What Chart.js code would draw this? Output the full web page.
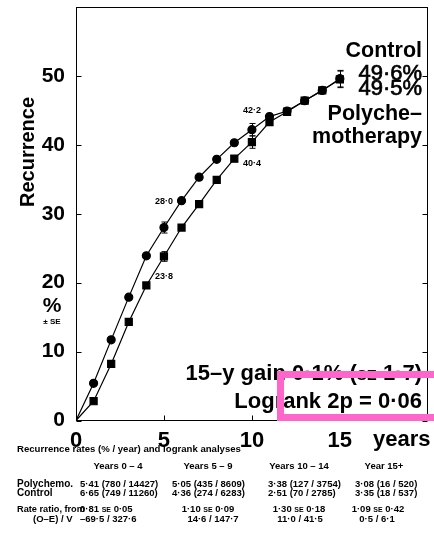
<!DOCTYPE html>
<html>
<head>
<meta charset="utf-8">
<script src="https://cdn.jsdelivr.net/npm/chart.js@4/dist/chart.umd.min.js"></script>
<style>
  body { margin: 0; background: #fff; }
  #wrap { position: relative; width: 434px; height: 535px; overflow: hidden; }
  #chart { position: absolute; left: 0; top: 0; }
  .t { position: absolute; font: bold 9.5px "Liberation Sans", Arial, sans-serif; white-space: nowrap; line-height: 10px; color: #000; }
  .c { transform: translateX(-50%); }
  .sc { font-size: 7px; }
</style>
</head>
<body>
<div id="wrap">
  <canvas id="chart" width="434" height="455"></canvas>
</div>
<script>
// datos
const years = [0, 1, 2, 3, 4, 5, 6, 7, 8, 9, 10, 11, 12, 13, 14, 15];
const control = [0, 5.4, 11.7, 17.9, 23.9, 28.0, 31.9, 35.3, 37.9, 40.3, 42.2, 44.1, 44.9, 46.4, 47.9, 49.6];
const polychemo = [0, 2.8, 8.2, 14.3, 19.6, 23.8, 28.0, 31.4, 34.9, 38.0, 40.4, 43.3, 44.8, 46.4, 47.9, 49.5];

// error estandar en los años 5, 10 y 15
const seYears = [5, 10, 15];
const controlSE = [0.8, 0.9, 1.2];
const polySE = [0.7, 0.9, 1.2];

const xTicks = [0, 5, 10, 15];
const yTicks = [0, 10, 20, 30, 40, 50];

// tabla inferior
const periods = ["Years 0 – 4", "Years 5 – 9", "Years 10 – 14", "Year 15+"];
const polyRates = ["5·41 (780 / 14427)", "5·05 (435 / 8609)", "3·38 (127 / 3754)", "3·08 (16 / 520)"];
const controlRates = ["6·65 (749 / 11260)", "4·36 (274 / 6283)", "2·51 (70 / 2785)", "3·35 (18 / 537)"];
const rateRatio = ["0·81", "1·10", "1·30", "1·09"];
const rateRatioSE = ["0·05", "0·09", "0·18", "0·42"];
const oeV = ["–69·5 / 327·6", "14·6 / 147·7", "11·0 / 41·5", "0·5 / 6·1"];

const FONT = "'Liberation Sans', Arial, Helvetica, sans-serif";
Chart.defaults.font.family = FONT;
Chart.defaults.color = "#000";

// dibuja texto por partes (para las versalitas SE)
function drawRuns(ctx, parts, xRight, yBase, strokeW) {
    let w = 0;
    parts.forEach(p => { ctx.font = p[1]; w += ctx.measureText(p[0]).width; });
    let xx = xRight - w;
    ctx.textAlign = "left";
    ctx.textBaseline = "alphabetic";
    parts.forEach(p => {
        ctx.font = p[1];
        ctx.fillText(p[0], xx, yBase);
        if (strokeW) {
            ctx.lineWidth = strokeW;
            ctx.strokeStyle = "#000";
            ctx.strokeText(p[0], xx, yBase);
        }
        xx += ctx.measureText(p[0]).width;
    });
}

const decor = {
    id: "decor",
    afterDatasetsDraw(chart) {
        const { ctx, scales: { x, y } } = chart;
        ctx.save();
        ctx.strokeStyle = "#000";
        ctx.lineWidth = 1;
        [[control, controlSE], [polychemo, polySE]].forEach(([vals, se]) => {
            seYears.forEach((yr, i) => {
                const px = Math.round(x.getPixelForValue(yr)) + 0.5;
                const top = y.getPixelForValue(vals[yr] + se[i]);
                const bot = y.getPixelForValue(vals[yr] - se[i]);
                ctx.beginPath();
                ctx.moveTo(px, top); ctx.lineTo(px, bot);
                ctx.moveTo(px - 3, top); ctx.lineTo(px + 3, top);
                ctx.moveTo(px - 3, bot); ctx.lineTo(px + 3, bot);
                ctx.stroke();
            });
        });
        ctx.restore();
    },
    afterDraw(chart) {
        const { ctx, chartArea: a, scales: { x, y } } = chart;
        ctx.save();
        ctx.strokeStyle = "#000";
        ctx.lineWidth = 1;
        const L = Math.round(a.left) + 0.5, R = Math.round(a.right) - 0.5;
        const T = Math.round(a.top) + 0.5, B = Math.round(a.bottom) - 0.5;
        ctx.strokeRect(L, T, R - L, B - T);

        // marcas hacia adentro
        ctx.beginPath();
        xTicks.forEach(v => {
            const px = Math.round(x.getPixelForValue(v)) + 0.5;
            ctx.moveTo(px, B); ctx.lineTo(px, B - 5);
        });
        yTicks.forEach(v => {
            const py = Math.round(y.getPixelForValue(v)) + 0.5;
            ctx.moveTo(L, py); ctx.lineTo(L + 5, py);
            ctx.moveTo(R, py); ctx.lineTo(R - 5, py);
        });
        ctx.stroke();

        ctx.fillStyle = "#000";

        // titulo eje y
        ctx.save();
        ctx.translate(28, 152);
        ctx.rotate(-Math.PI / 2);
        ctx.font = "bold 20px " + FONT;
        ctx.textAlign = "center";
        ctx.textBaseline = "middle";
        ctx.fillText("Recurrence", 0, 0);
        ctx.restore();

        ctx.textAlign = "center";
        ctx.textBaseline = "alphabetic";
        ctx.font = "bold 21px " + FONT;
        ctx.fillText("%", 52, 312);
        ctx.font = "bold 8px " + FONT;
        ctx.fillText("± SE", 52, 324);

        // "years"
        ctx.textAlign = "left";
        ctx.font = "bold 22px " + FONT;
        ctx.fillText("years", 373, 446);

        // etiquetas de puntos
        ctx.font = "bold 9px " + FONT;
        ctx.textAlign = "center";
        ctx.textBaseline = "middle";
        const lab = (yr, val, dy) => {
            ctx.fillText(val.toFixed(1).replace(".", "·"), x.getPixelForValue(yr), y.getPixelForValue(val) + dy);
        };
        lab(5, control[5], -26);
        lab(5, polychemo[5], 20);
        lab(10, control[10], -19);
        lab(10, polychemo[10], 21);

        // leyenda
        const bold = "bold 21.5px " + FONT;
        const reg = "22px " + FONT;
        drawRuns(ctx, [["Control", bold]], 422, 57);
        drawRuns(ctx, [[control[15].toFixed(1).replace(".", "·") + "%", reg]], 422, 80, 0.7);
        drawRuns(ctx, [[polychemo[15].toFixed(1).replace(".", "·") + "%", reg]], 422, 95, 0.7);
        drawRuns(ctx, [["Polyche–", bold]], 422, 120);
        drawRuns(ctx, [["motherapy", bold]], 422, 143);

        // anotaciones
        const b22 = "bold 22px " + FONT;
        drawRuns(ctx, [["15–y gain 0·1% (", b22], ["SE", "bold 15px " + FONT], [" 1·7)", b22]], 422, 380);
        drawRuns(ctx, [["Logrank 2p = 0·06", b22]], 422, 408);

        // recuadro rosa
        ctx.strokeStyle = "#ff66cc";
        ctx.lineWidth = 7;
        ctx.strokeRect(280.5, 374.5, 170, 43);
        ctx.restore();
    }
};

new Chart(document.getElementById("chart"), {
    type: "line",
    data: {
        datasets: [
            {
                label: "Control",
                data: years.map((yr, i) => ({ x: yr, y: control[i] })),
                borderColor: "#000",
                backgroundColor: "#000",
                borderWidth: 1.2,
                pointStyle: "circle",
                pointRadius: ctx => (ctx.dataIndex === 0 ? 0 : 4),
                tension: 0
            },
            {
                label: "Polychemotherapy",
                data: years.map((yr, i) => ({ x: yr, y: polychemo[i] })),
                borderColor: "#000",
                backgroundColor: "#000",
                borderWidth: 1.2,
                pointStyle: "rect",
                pointRadius: ctx => (ctx.dataIndex === 0 ? 0 : 5),
                tension: 0
            }
        ]
    },
    options: {
        responsive: false,
        animation: false,
        layout: { padding: { top: 7, right: 4, left: 0, bottom: 0 } },
        plugins: { legend: { display: false }, tooltip: { enabled: false } },
        scales: {
            x: {
                type: "linear",
                min: 0,
                max: 20,
                grid: { display: false, drawTicks: false },
                border: { display: false },
                afterFit: s => { s.height = 34.5; s.paddingLeft = 0; s.paddingRight = 0; },
                afterBuildTicks: s => { s.ticks = xTicks.map(v => ({ value: v })); },
                ticks: { font: { size: 22, weight: "bold" }, padding: 7, maxRotation: 0 }
            },
            y: {
                min: 0,
                max: 60,
                grid: { display: false, drawTicks: false },
                border: { display: false },
                afterFit: s => { s.width = 76; s.paddingTop = 0; s.paddingBottom = 0; },
                afterBuildTicks: s => { s.ticks = yTicks.map(v => ({ value: v })); },
                ticks: { font: { size: 21, weight: "bold" }, padding: 11 }
            }
        }
    },
    plugins: [decor]
});

// tabla de tasas
const wrap = document.getElementById("wrap");
function put(html, x, cy, centered, size) {
    const d = document.createElement("div");
    d.className = "t" + (centered ? " c" : "");
    d.style.left = x + "px";
    d.style.top = (cy - 5) + "px";
    if (size) d.style.fontSize = size + "px";
    d.innerHTML = html;
    wrap.appendChild(d);
}
const headX = [118, 208, 299, 384];
const rateLeft = [80, 172, 268, 355];
const ratioX = [80, 208, 299, 378];
const oeX = [80, 213, 300, 377];

put("Recurrence rates (% / year) and logrank analyses", 17, 449, false, 9.6);
periods.forEach((p, i) => put(p, headX[i], 466, true));
put("Polychemo.", 17, 484, false, 10);
put("Control", 17, 493, false, 10);
polyRates.forEach((r, i) => put(r, rateLeft[i], 484, false));
controlRates.forEach((r, i) => put(r, rateLeft[i], 493, false));
put("Rate ratio, from", 17, 509, false, 9.2);
put("(O–E) / V", 33, 519, false, 9.5);
rateRatio.forEach((r, i) => put(r + ' <span class="sc">SE</span> ' + rateRatioSE[i], ratioX[i], 509, i > 0));
oeV.forEach((r, i) => put(r, oeX[i], 519, i > 0));
</script>
</body>
</html>
